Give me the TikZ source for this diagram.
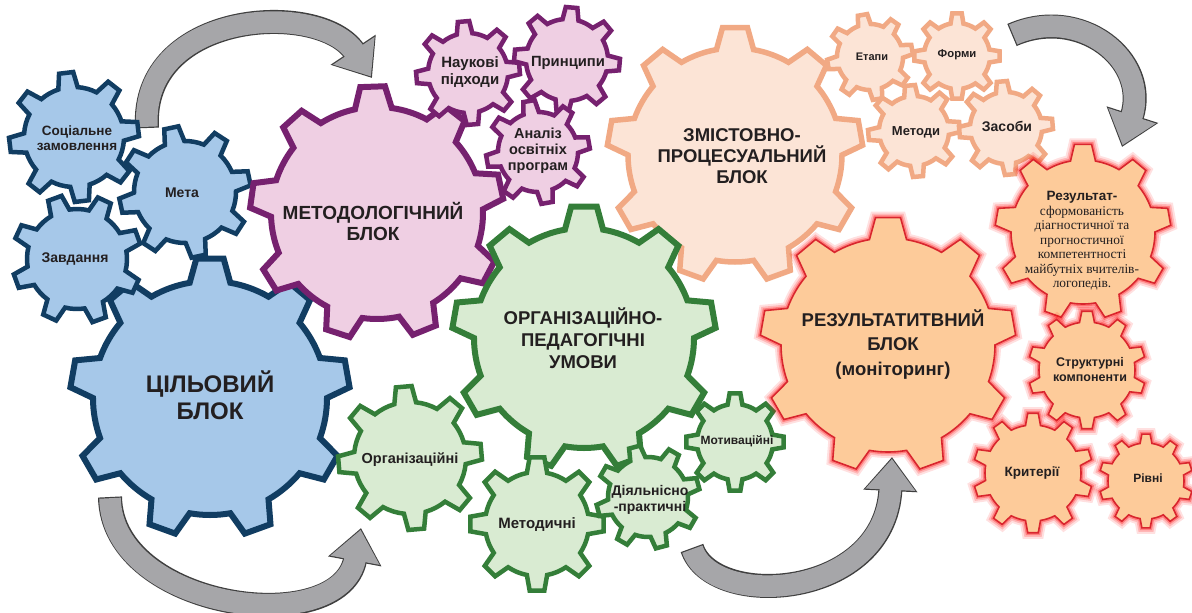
\documentclass[tikz,border=0pt]{standalone}
\usepackage{fontspec}
\setmainfont{Liberation Sans}
\newfontfamily\resserif{Liberation Serif}
\usetikzlibrary{arrows.meta}
\definecolor{bluefill}{HTML}{A6C8E9}
\definecolor{bluedark}{HTML}{113D62}
\definecolor{purfill}{HTML}{EFCFE3}
\definecolor{purdark}{HTML}{76216F}
\definecolor{grnfill}{HTML}{D9EBD2}
\definecolor{grndark}{HTML}{347E39}
\definecolor{salfill}{HTML}{FCE4D6}
\definecolor{saldark}{HTML}{F1A984}
\definecolor{orfill}{HTML}{FDCB9A}
\definecolor{ordark}{HTML}{D9262E}
\definecolor{arrfill}{HTML}{A6A6A9}
\definecolor{arrline}{HTML}{3F3F3F}
\definecolor{txtc}{HTML}{231F20}
\newcommand\gear[6]{%
  \pgfmathsetmacro\gP{360/#4}%
  \pgfmathsetmacro\gA{0.25*\gP}%
  \pgfmathsetmacro\gB{0.14*\gP}%
  \path[#6,shift={#1}] ({#5-\gA}:#3)
    \foreach \k in {1,...,#4}{
      -- ({#5+(\k-1)*\gP-\gB}:#2) -- ({#5+(\k-1)*\gP+\gB}:#2) -- ({#5+(\k-1)*\gP+\gA}:#3)
      arc[start angle={#5+(\k-1)*\gP+\gA}, end angle={#5+\k*\gP-\gA}, radius=#3]
    } -- cycle;
}
\begin{document}
\begin{tikzpicture}[x=1pt,y=-1pt,
  bgb/.style={fill=bluefill,draw=bluedark,line width=6pt},
  bgs/.style={fill=bluefill,draw=bluedark,line width=4.5pt},
  pgb/.style={fill=purfill,draw=purdark,line width=6pt},
  pgs/.style={fill=purfill,draw=purdark,line width=4.5pt},
  ggb/.style={fill=grnfill,draw=grndark,line width=6pt},
  ggs/.style={fill=grnfill,draw=grndark,line width=4.5pt},
  sgb/.style={fill=salfill,draw=saldark,line width=5.5pt},
  sgs/.style={fill=salfill,draw=saldark,line width=4.5pt},
  ogear/.style={fill=orfill,draw=ordark,line width=1.6pt,
     preaction={draw=red,line width=12pt,opacity=0.12},
     preaction={draw=red,line width=8pt,opacity=0.18},
     preaction={draw=red,line width=4.5pt,opacity=0.3}},
  bt/.style 2 args={font=\bfseries\fontsize{#1}{#2}\selectfont,align=center,text=txtc,inner sep=0pt},
  arrout/.style={draw=arrline,line width=24pt,-{Triangle[length=34pt,width=52pt]}},
  arrin/.style={draw=arrfill,line width=21.6pt,shorten >=1.8pt,shorten <=1.2pt,-{Triangle[length=31pt,width=48pt]}},
]
\useasboundingbox[fill=white] (0,0) rectangle (1192,613);
% arrow end points
\coordinate (aAs) at (147,128); \coordinate (aAe) at (372,78);
\coordinate (aBs) at (1012,35); \coordinate (aBe) at (1122,147);
\coordinate (aCs) at (110,497); \coordinate (aCe) at (361,528);
\coordinate (aDs) at (692,548); \coordinate (aDe) at (892,457);
\foreach \s in {arrout,arrin}{
  \draw[\s] (aAs) .. controls (140,10) and (320,0) .. (aAe);
  \draw[\s] (aBs) .. controls (1080,5) and (1150,60) .. (aBe);
  \draw[\s] (aCs) .. controls (112,610) and (340,640) .. (aCe);
  \draw[\s] (aDs) .. controls (712,610) and (885,600) .. (aDe);
}
% blue gears
\gear{(210,398)}{140}{117}{9}{270}{bgb}
\gear{(74,137)}{65}{50}{8}{263}{bgs}
\gear{(185,192)}{66}{51}{8}{258}{bgs}
\gear{(77,259)}{65}{50}{8}{250}{bgs}
% purple
\gear{(377,213)}{127}{106}{9}{268}{pgb}
\gear{(468,73)}{52}{40}{8}{265}{pgs}
\gear{(567,60)}{53}{41}{8}{275}{pgs}
\gear{(538,152)}{52}{40}{8}{260}{pgs}
% salmon
\gear{(735,155)}{128}{107}{9}{270}{sgb}
\gear{(870,57)}{43}{33}{8}{260}{sgs}
\gear{(957,56)}{43}{33}{8}{270}{sgs}
\gear{(914,131)}{46}{35}{8}{265}{sgs}
\gear{(1006,128)}{47}{36}{8}{265}{sgs}
% green
\gear{(584,338)}{132}{110}{9}{270}{ggb}
\gear{(410,458)}{72}{56}{8}{265}{ggs}
\gear{(537,524)}{67}{52}{8}{270}{ggs}
\gear{(648,497)}{52}{40}{8}{255}{ggs}
\gear{(735,442)}{49}{38}{8}{270}{ggs}
% orange
\gear{(888,345)}{128}{107}{9}{270}{ogear}
\gear{(1083,232)}{88}{72}{9}{270}{ogear}
\gear{(1087,370)}{59}{48}{10}{270}{ogear}
\gear{(1033,473)}{60}{48}{10}{270}{ogear}
\gear{(1146,481)}{47}{38}{10}{270}{ogear}
% texts
\node[bt={24}{27}] (tC) at (210,395) {ЦІЛЬОВИЙ\\БЛОК};
\node[bt={13.5}{15.5}] (tS) at (77,138) {Соціальне\\замовлення};
\node[bt={14}{15}] (tM) at (182,193) {Мета};
\node[bt={14}{15}] (tZ) at (75,259) {Завдання};
\node[bt={19}{21}] (tMe) at (373,221) {МЕТОДОЛОГІЧНИЙ\\БЛОК};
\node[bt={15}{17}] (tN) at (470,72) {Наукові\\підходи};
\node[bt={14.8}{16}] (tP) at (568,63) {Принципи};
\node[bt={14.5}{16}] (tA) at (538,151) {Аналіз\\освітніх\\програм};
\node[bt={18.5}{21}] (tZm) at (742,156) {ЗМІСТОВНО-\\ПРОЦЕСУАЛЬНИЙ\\БЛОК};
\node[bt={11}{12}] (tE) at (872,57) {Етапи};
\node[bt={11.3}{12}] (tF) at (957,55) {Форми};
\node[bt={13}{14}] (tMt) at (916,132) {Методи};
\node[bt={14}{15}] (tZs) at (1007,126) {Засоби};
\node[bt={18.5}{22}] (tO) at (583,338) {ОРГАНІЗАЦІЙНО-\\ПЕДАГОГІЧНІ\\УМОВИ};
\node[bt={14.5}{15}] (tOr) at (410,460) {Організаційні};
\node[bt={15}{16}] (tMd) at (537,525) {Методичні};
\node[bt={14}{15.5}] (tD) at (650,500) {Діяльнісно\\-практичні};
\node[bt={12}{13}] (tMo) at (737,441) {Мотиваційні};
\node[bt={18.5}{24}] (tR) at (893,330) {РЕЗУЛЬТАТИТВНИЙ\\БЛОК};
\node[bt={18.5}{22}] (tRm) at (893,371) {(моніторинг)};
\node[align=center,text=txtc,inner sep=0pt,font=\resserif\fontsize{13.4}{14.5}\selectfont] (tRes) at (1082,241)
  {{\normalfont\bfseries\fontsize{13.5}{14.5}\selectfont Результат-}\\сформованість\\діагностичної та\\прогностичної\\компетентності\\майбутніх вчителів-\\логопедів.};
\node[bt={12.5}{15}] (tSt) at (1090,370) {Структурні\\компоненти};
\node[bt={13.5}{14}] (tK) at (1032,473) {Критерії};
\node[bt={12}{14}] (tRv) at (1148,478) {Рівні};
\end{tikzpicture}
\end{document}
